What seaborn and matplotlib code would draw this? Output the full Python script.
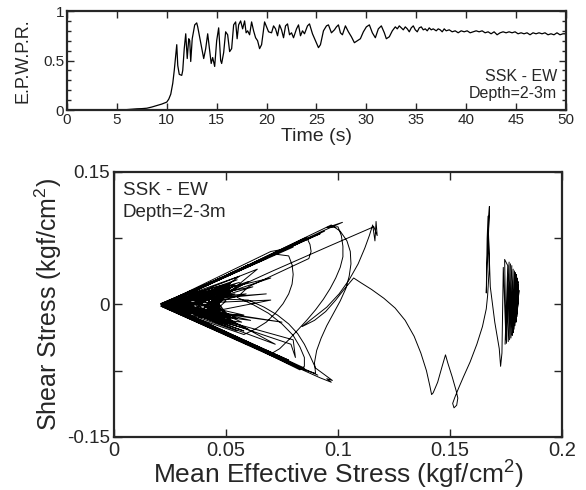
import matplotlib
matplotlib.use("Agg")
import matplotlib.pyplot as plt
import seaborn as sns
from matplotlib.ticker import MultipleLocator, FuncFormatter

sns.set_style("ticks")
plt.rcParams['font.family'] = ['Liberation Sans', 'DejaVu Sans']
plt.rcParams['mathtext.fontset'] = 'custom'
plt.rcParams['mathtext.rm'] = 'Liberation Sans'
plt.rcParams['mathtext.it'] = 'Liberation Sans'
plt.rcParams['axes.unicode_minus'] = False

# ---- excess pore water pressure ratio time history ----
time_s = [0, 5.5, 6.0, 6.5, 7.0, 7.5, 8.0, 8.5, 9.0, 9.5, 10.0, 10.2, 10.4, 10.6, 10.75,
          10.9, 11.0, 11.1, 11.25, 11.5, 11.6, 11.75, 11.9, 12.05, 12.2, 12.3, 12.4, 12.55,
          12.8, 13.0, 13.1, 13.4, 13.7, 13.9, 14.1, 14.3, 14.45, 14.6, 14.8, 15.0, 15.2,
          15.4, 15.5, 15.7, 15.9, 16.1, 16.3, 16.5, 16.7, 16.9, 17.05, 17.2, 17.4, 17.6,
          17.8, 17.95, 18.1, 18.3, 18.5, 18.7, 18.9, 19.1, 19.3, 19.5, 19.8, 20.0, 20.2,
          20.5, 20.7, 20.9, 21.1, 21.3, 21.5, 21.7, 21.9, 22.1, 22.3, 22.5, 22.7, 23.0,
          23.2, 23.4, 23.6, 23.8, 24.1, 24.3, 24.6, 24.9, 25.2, 25.4, 25.7, 26.0, 26.2,
          26.5, 26.8, 27.0, 27.2, 27.4, 27.6, 27.9, 28.2, 28.5, 28.8, 29.1, 29.4, 29.7,
          30.0, 30.3, 30.6, 30.9, 31.2, 31.5, 31.8, 32.0, 32.3, 32.6, 32.9, 33.1, 33.3,
          33.5, 33.7, 33.9, 34.1, 34.3, 34.5, 34.7, 34.9, 35.1, 35.3, 35.5, 35.7, 35.9,
          36.1, 36.3, 36.5, 36.7, 37.0, 37.2, 37.4, 37.6, 37.8, 38.0, 38.3, 38.6, 38.9,
          39.2, 39.5, 39.8, 40.1, 40.4, 40.7, 41.0, 41.3, 41.6, 41.9, 42.2, 42.5, 42.8,
          43.1, 43.4, 43.7, 44.0, 44.3, 44.6, 44.9, 45.2, 45.5, 45.8, 46.1, 46.4, 46.7,
          47.0, 47.3, 47.6, 47.9, 48.2, 48.5, 48.8, 49.1, 49.4, 49.7, 50.0]
epwpr = [0, 0.0, 0.004, 0.008, 0.012, 0.014, 0.018, 0.03, 0.045, 0.06, 0.08, 0.11, 0.16, 0.27, 0.40,
         0.55, 0.66, 0.45, 0.36, 0.35, 0.40, 0.62, 0.77, 0.52, 0.72, 0.70, 0.49, 0.72,
         0.86, 0.88, 0.84, 0.68, 0.52, 0.62, 0.77, 0.60, 0.47, 0.53, 0.44, 0.70, 0.83,
         0.50, 0.47, 0.58, 0.79, 0.76, 0.59, 0.62, 0.86, 0.89, 0.72, 0.86, 0.90, 0.82,
         0.90, 0.78, 0.80, 0.76, 0.89, 0.80, 0.73, 0.70, 0.62, 0.66, 0.89, 0.84, 0.79,
         0.78, 0.85, 0.82, 0.75, 0.86, 0.81, 0.73, 0.85, 0.87, 0.76, 0.78, 0.73, 0.82,
         0.86, 0.75, 0.80, 0.77, 0.85, 0.87, 0.77, 0.70, 0.63, 0.66, 0.80, 0.85, 0.86,
         0.78, 0.81, 0.84, 0.86, 0.78, 0.76, 0.85, 0.79, 0.74, 0.68, 0.70, 0.72, 0.79,
         0.84, 0.86, 0.78, 0.73, 0.82, 0.85, 0.78, 0.72, 0.74, 0.80, 0.84, 0.82, 0.85,
         0.83, 0.81, 0.84, 0.82, 0.79, 0.83, 0.85, 0.81, 0.79, 0.83, 0.84, 0.81, 0.82,
         0.80, 0.83, 0.81, 0.82, 0.80, 0.82, 0.81, 0.79, 0.82, 0.80, 0.81, 0.79, 0.80,
         0.78, 0.80, 0.79, 0.80, 0.78, 0.79, 0.80, 0.79, 0.80, 0.78, 0.79, 0.77, 0.79,
         0.76, 0.78, 0.79, 0.78, 0.79, 0.78, 0.79, 0.77, 0.78, 0.77, 0.78, 0.76, 0.78,
         0.77, 0.78, 0.77, 0.78, 0.76, 0.77, 0.76, 0.78, 0.76, 0.77, 0.77]

# ---- effective stress path (kgf/cm2), in time order ----
# small cycles near the initial confinement
right_p = [0.1800, 0.1805, 0.1800, 0.1808, 0.1798, 0.1806, 0.1795, 0.1804, 0.1790, 0.1800,
           0.1786, 0.1796, 0.1782, 0.1792, 0.1778, 0.1788, 0.1772, 0.1782, 0.1766, 0.1776,
           0.1760, 0.1770, 0.1752, 0.1764, 0.1746, 0.1758, 0.1744, 0.1750, 0.1738, 0.1732, 0.1726]
right_tau = [0.000, 0.010, -0.010, 0.016, -0.014, 0.022, -0.020, 0.026, -0.024, 0.030,
             -0.028, 0.034, -0.032, 0.036, -0.035, 0.038, -0.038, 0.040, -0.040, 0.044,
             -0.042, 0.046, -0.044, 0.048, -0.045, 0.044, 0.051, -0.040, 0.042, -0.055, -0.070]
# tall spike
spike_p = [0.1720, 0.1700, 0.1680, 0.1672, 0.1676, 0.1668, 0.1662, 0.1666, 0.1670, 0.1675, 0.1668]
spike_tau = [-0.050, -0.020, 0.020, 0.080, 0.111, 0.060, 0.013, 0.075, 0.100, 0.040, 0.010]
# first big drop of p'
drop_p = [0.1662, 0.1645, 0.1620, 0.1590, 0.1560, 0.1538, 0.1522, 0.1512, 0.1518, 0.1530,
          0.1535, 0.1528, 0.1510, 0.1490, 0.1480, 0.1465, 0.1445, 0.1425, 0.1418, 0.1410,
          0.1395, 0.1370, 0.1340, 0.1300, 0.1255, 0.1205, 0.1150, 0.1100, 0.1070]
drop_tau = [-0.005, -0.025, -0.045, -0.065, -0.082, -0.095, -0.105, -0.112, -0.117, -0.114,
            -0.106, -0.098, -0.082, -0.066, -0.057, -0.070, -0.088, -0.100, -0.102, -0.092,
            -0.075, -0.055, -0.036, -0.018, -0.004, 0.007, 0.017, 0.025, 0.030]
# cusp and return to the upper spike
cusp_p = [0.1030, 0.0990, 0.0945, 0.0895, 0.0840, 0.0890, 0.0950, 0.1005, 0.1050, 0.1090,
          0.1120, 0.1140, 0.1155, 0.1165, 0.1170, 0.1175, 0.1160, 0.0960, 0.0700, 0.0450]
cusp_tau = [0.018, 0.005, -0.008, -0.018, -0.025, -0.015, -0.003, 0.012, 0.028, 0.046,
            0.064, 0.078, 0.090, 0.072, 0.094, 0.078, 0.088, 0.066, 0.037, 0.008]
# swings to the failure envelopes
fan1_p = [0.021, 0.055, 0.022, 0.060, 0.021, 0.065, 0.022, 0.058, 0.021, 0.080, 0.023,
          0.085, 0.022, 0.088, 0.021, 0.072, 0.022]
fan1_tau = [0.001, 0.038, 0.000, -0.045, 0.001, 0.049, -0.001, -0.042, 0.000, 0.065, 0.001,
            -0.072, 0.000, 0.076, -0.001, -0.057, 0.001]
arcc_p = [0.0700, 0.0755, 0.0720, 0.0780, 0.0795, 0.0800, 0.0795, 0.0780, 0.0755, 0.0720,
          0.0680, 0.0630, 0.0580, 0.0210]
arcc_tau = [0.060, 0.0625, 0.057, 0.055, 0.045, 0.034, 0.023, 0.012, 0.001, -0.010,
            -0.020, -0.028, -0.034, -0.002]
arca_p = [0.0930, 0.1020, 0.0950, 0.1000, 0.1015, 0.1022, 0.1022, 0.1010, 0.0990, 0.0965,
          0.0935, 0.0900, 0.0860, 0.0820, 0.0780, 0.0740, 0.0700, 0.0220]
arca_tau = [0.083, 0.093, 0.087, 0.088, 0.078, 0.066, 0.054, 0.042, 0.030, 0.018,
            0.006, -0.006, -0.018, -0.029, -0.040, -0.050, -0.056, -0.003]
arce_p = [0.0920, 0.0970, 0.0950, 0.0975, 0.0900, 0.0875, 0.0850, 0.0820, 0.0780, 0.0730,
          0.0670, 0.0600, 0.0300]
arce_tau = [-0.083, -0.088, -0.084, -0.086, -0.072, -0.058, -0.045, -0.033, -0.022, -0.012,
            -0.003, 0.005, 0.008]
arcb_p = [0.0970, 0.1010, 0.1040, 0.1055, 0.1058, 0.1050, 0.1035, 0.1010, 0.0980, 0.0950,
          0.0925, 0.0905, 0.0895, 0.0900, 0.0850, 0.0210]
arcb_tau = [0.090, 0.083, 0.072, 0.060, 0.046, 0.032, 0.018, 0.004, -0.010, -0.024,
            -0.038, -0.052, -0.066, -0.078, -0.074, -0.002]
arcf_p = [0.0860, 0.0875, 0.0880, 0.0870, 0.0600, 0.0550, 0.0620, 0.0690, 0.0750, 0.0800,
          0.0830, 0.0850, 0.0850, 0.0830, 0.0230]
arcf_tau = [0.076, 0.068, 0.060, 0.052, 0.020, 0.008, 0.000, -0.010, -0.022, -0.035,
            -0.048, -0.060, -0.070, -0.074, 0.001]
fan2_p = [0.060, 0.023, 0.078, 0.022, 0.062, 0.021, 0.094, 0.022, 0.091, 0.023, 0.068, 0.022,
          0.066, 0.022, 0.080, 0.081, 0.079, 0.024, 0.090, 0.092, 0.085, 0.022, 0.050, 0.022,
          0.052, 0.021]
fan2_tau = [0.045, 0.000, -0.063, 0.000, 0.046, 0.000, 0.083, -0.001, -0.080, 0.000, 0.052, 0.000,
            -0.050, 0.001, -0.040, -0.060, -0.045, 0.002, 0.078, 0.080, 0.072, -0.001, 0.032, 0.000,
            -0.035, 0.001]
fan3_p = [0.021, 0.070, 0.030, 0.075, 0.022, 0.068, 0.035, 0.072, 0.024, 0.064, 0.040, 0.070, 0.022]
fan3_tau = [0.001, 0.030, -0.004, -0.020, 0.001, 0.012, 0.006, -0.045, 0.000, 0.040, -0.010, 0.005, 0.000]
# late small cycles close to the apex
late2_p = [0.042, 0.060, 0.026, 0.057, 0.024, 0.062, 0.028, 0.055, 0.023, 0.059, 0.030, 0.061,
           0.025, 0.056, 0.033, 0.058, 0.027, 0.054, 0.036, 0.060, 0.029, 0.053, 0.038, 0.057,
           0.031, 0.052, 0.040, 0.055, 0.034, 0.050, 0.042, 0.054, 0.037, 0.049, 0.044, 0.052,
           0.040, 0.048, 0.045]
late2_tau = [0.000, 0.026, -0.003, -0.024, 0.002, 0.020, -0.006, -0.030, 0.003, 0.012, -0.008, -0.018,
             0.004, 0.032, -0.010, -0.012, 0.006, 0.022, -0.012, -0.028, 0.008, 0.016, -0.014, -0.020,
             0.010, 0.024, -0.010, -0.016, 0.012, 0.018, -0.008, -0.022, 0.010, 0.014, -0.006, -0.014,
             0.008, 0.010, 0.000]
late_p = [0.045, 0.024, 0.052, 0.022, 0.050, 0.023, 0.056, 0.024, 0.048, 0.022, 0.054, 0.025,
          0.046, 0.023, 0.058, 0.024, 0.051, 0.022, 0.049, 0.026, 0.053, 0.023, 0.047, 0.024,
          0.055, 0.025, 0.050, 0.027, 0.044, 0.030, 0.052, 0.028, 0.048, 0.032, 0.046, 0.035,
          0.050, 0.038, 0.047, 0.040, 0.052, 0.042, 0.049, 0.041, 0.053, 0.043, 0.048, 0.044,
          0.051, 0.045, 0.047, 0.046, 0.050, 0.044, 0.048, 0.043, 0.046, 0.042, 0.045, 0.041,
          0.044, 0.040, 0.043, 0.041, 0.042]
late_tau = [0.008, 0.002, 0.018, -0.001, -0.014, 0.001, 0.025, -0.002, -0.020, 0.001, 0.012, -0.003,
            -0.008, 0.002, -0.030, 0.001, 0.022, -0.001, -0.016, 0.003, 0.015, -0.002, -0.010, 0.001,
            0.028, -0.003, -0.018, 0.004, 0.010, -0.004, -0.022, 0.006, 0.016, -0.006, -0.012, 0.008,
            0.014, -0.008, -0.010, 0.010, -0.018, 0.012, 0.006, -0.012, -0.020, 0.014, -0.004, -0.010,
            0.018, 0.008, -0.014, 0.012, 0.004, -0.010, 0.010, -0.006, 0.008, -0.008, 0.006, -0.004,
            0.005, -0.005, 0.003, -0.002, 0.000]

p_path = (right_p + spike_p + drop_p + cusp_p + fan1_p + arcc_p + arca_p + arce_p
          + arcb_p + arcf_p + fan2_p + fan3_p + late2_p + late_p)
tau_path = (right_tau + spike_tau + drop_tau + cusp_tau + fan1_tau + arcc_tau + arca_tau
            + arce_tau + arcb_tau + arcf_tau + fan2_tau + fan3_tau + late2_tau + late_tau)

fig = plt.figure(figsize=(5.86, 4.9), dpi=100)
ax1 = fig.add_axes([0.1143, 0.7755, 0.8515, 0.2020])
ax2 = fig.add_axes([0.1945, 0.1082, 0.7645, 0.5408])

sns.lineplot(x=time_s, y=epwpr, ax=ax1, color='black', lw=0.9, sort=False, estimator=None)
ax1.set_xlim(0, 50)
ax1.set_ylim(0, 1)
ax1.xaxis.set_major_locator(MultipleLocator(5))
ax1.yaxis.set_major_locator(MultipleLocator(0.5))
ax1.yaxis.set_minor_locator(MultipleLocator(0.1))
ax1.yaxis.set_major_formatter(FuncFormatter(lambda v, pos: '%g' % v))
ax1.tick_params(which='both', direction='in', top=True, right=True, labelsize=11, pad=2)
ax1.tick_params(which='major', length=5, width=1)
ax1.tick_params(which='minor', length=3, width=1)
ax1.set_xlabel('Time (s)', fontsize=14, labelpad=1)
ax1.set_ylabel('E.P.W.P.R.', fontsize=13)
ax1.yaxis.set_label_coords(-0.072, 0.5)
ax1.text(0.982, 0.343, 'SSK - EW', transform=ax1.transAxes, ha='right', va='center', fontsize=11.5)
ax1.text(0.982, 0.162, 'Depth=2-3m', transform=ax1.transAxes, ha='right', va='center', fontsize=11.5)

sns.lineplot(x=p_path, y=tau_path, ax=ax2, color='black', lw=0.7, sort=False, estimator=None)
ax2.set_xlim(0, 0.2)
ax2.set_ylim(-0.15, 0.15)
ax2.xaxis.set_major_locator(MultipleLocator(0.05))
ax2.yaxis.set_major_locator(MultipleLocator(0.15))
ax2.yaxis.set_minor_locator(MultipleLocator(0.075))
fmt = FuncFormatter(lambda v, pos: '%g' % round(v, 3))
ax2.xaxis.set_major_formatter(fmt)
ax2.yaxis.set_major_formatter(fmt)
ax2.tick_params(which='both', direction='in', top=True, right=True, width=1, length=6)
ax2.tick_params(axis='x', labelsize=14.5, pad=3)
ax2.tick_params(axis='y', labelsize=13.5, pad=3)
ax2.set_xlabel('Mean Effective Stress (kgf/cm$^2$)', fontsize=19, labelpad=-1)
ax2.set_ylabel('Shear Stress (kgf/cm$^2$)', fontsize=18, labelpad=2)
ax2.text(0.020, 0.932, 'SSK - EW', transform=ax2.transAxes, ha='left', va='center', fontsize=13.5)
ax2.text(0.020, 0.849, 'Depth=2-3m', transform=ax2.transAxes, ha='left', va='center', fontsize=13.5)

for ax in (ax1, ax2):
    for s in ax.spines.values():
        s.set_linewidth(1.6)
        s.set_visible(True)

fig.savefig('out.png', dpi=100)
